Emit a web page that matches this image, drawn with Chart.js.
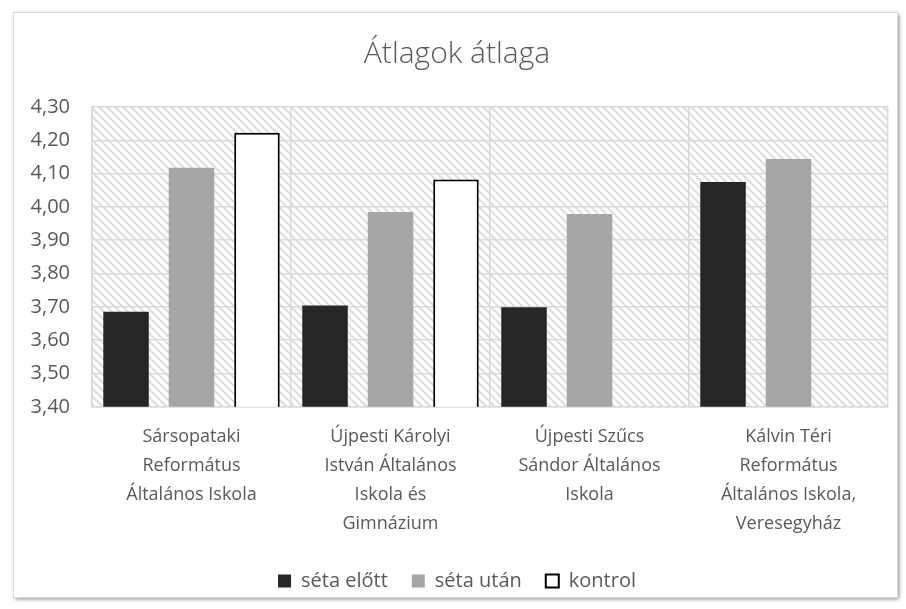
<!DOCTYPE html>
<html>
<head>
<meta charset="utf-8">
<script src="https://cdn.jsdelivr.net/npm/chart.js@4"></script>
<style>
  html, body { margin: 0; padding: 0; background: #fff; }
  #wrap { width: 906px; height: 609px; }
</style>
</head>
<body>
<div id="wrap"><canvas id="chart" width="906" height="609"></canvas></div>
<script>
const categories = [
  ['Sársopataki', 'Református', 'Általános Iskola'],
  ['Újpesti Károlyi', 'István Általános', 'Iskola és', 'Gimnázium'],
  ['Újpesti Szűcs', 'Sándor Általános', 'Iskola'],
  ['Kálvin Téri', 'Református', 'Általános Iskola,', 'Veresegyház']
]
const setaElott = [3.685, 3.704, 3.699, 4.075]
const setaUtan = [4.118, 3.985, 3.979, 4.144]
const kontrol = [4.223, 4.082, null, null]
const yMin = 3.4
const yMax = 4.3
const yStep = 0.1

const textColor = '#595959'
const gridColor = '#d9d9d9'

// diagonal hatch for the plot area
function hatchPattern (ctx) {
  const c = document.createElement('canvas')
  c.width = 8
  c.height = 8
  const p = c.getContext('2d')
  p.fillStyle = '#ffffff'
  p.fillRect(0, 0, 8, 8)
  p.strokeStyle = '#dedede'
  p.lineWidth = 2.2
  p.beginPath()
  p.moveTo(-2, -2); p.lineTo(10, 10)
  p.moveTo(-10, -2); p.lineTo(2, 10)
  p.moveTo(6, -2); p.lineTo(18, 10)
  p.stroke()
  return ctx.createPattern(c, 'repeat')
}

const background = {
  id: 'background',
  beforeDraw: function (chart) {
    const ctx = chart.ctx
    const a = chart.chartArea
    ctx.save()
    ctx.fillStyle = '#ffffff'
    ctx.fillRect(0, 0, chart.width, chart.height)
    // outer frame with soft shadow
    ctx.shadowColor = 'rgba(0, 0, 0, 0.45)'
    ctx.shadowBlur = 4
    ctx.shadowOffsetX = 2
    ctx.shadowOffsetY = 2
    ctx.fillRect(13, 12, 884, 585)
    ctx.shadowColor = 'transparent'
    ctx.strokeStyle = '#d9d9d9'
    ctx.lineWidth = 1
    ctx.strokeRect(13.5, 12.5, 884, 585)
    ctx.fillStyle = hatchPattern(ctx)
    ctx.fillRect(a.left, a.top, a.right - a.left, a.bottom - a.top)
    ctx.restore()
  }
}

const font = "'Open Sans', sans-serif"

new Chart(document.getElementById('chart').getContext('2d'), {
  type: 'bar',
  data: {
    labels: categories,
    datasets: [{
      label: 'séta előtt',
      data: setaElott,
      backgroundColor: '#262626',
      borderColor: '#262626',
      borderWidth: 0
    }, {
      label: 'séta után',
      data: setaUtan,
      backgroundColor: '#a6a6a6',
      borderColor: '#a6a6a6',
      borderWidth: 0
    }, {
      label: 'kontrol',
      data: kontrol,
      backgroundColor: '#ffffff',
      borderColor: '#000000',
      borderWidth: 2
    }]
  },
  options: {
    responsive: false,
    animation: false,
    layout: { padding: { top: 20, left: 26, right: 18, bottom: 8 } },
    datasets: {
      bar: { categoryPercentage: 0.987, barPercentage: 0.695 }
    },
    plugins: {
      title: {
        display: true,
        text: 'Átlagok átlaga',
        color: textColor,
        font: { family: font, size: 30, weight: '300' },
        padding: { top: 16, bottom: 35 }
      },
      legend: {
        position: 'bottom',
        labels: {
          color: textColor,
          font: { family: font, size: 20 },
          boxWidth: 13,
          boxHeight: 13,
          padding: 24
        }
      },
      tooltip: { enabled: false }
    },
    scales: {
      x: {
        grid: { color: gridColor, lineWidth: 1.5, drawTicks: false },
        border: { color: gridColor, width: 1.5 },
        ticks: {
          color: textColor,
          font: { family: font, size: 18, lineHeight: 1.6 },
          padding: 16,
          maxRotation: 0,
          autoSkip: false
        },
        afterFit: function (scale) { scale.height -= 7 }
      },
      y: {
        min: yMin,
        max: yMax,
        grid: { color: gridColor, lineWidth: 1.5, drawTicks: false },
        border: { color: gridColor, width: 1.5 },
        ticks: {
          stepSize: yStep,
          color: textColor,
          font: { family: font, size: 20 },
          padding: 22,
          callback: function (v) { return v.toFixed(2).replace('.', ',') }
        },
        afterFit: function (scale) { scale.width = 66 }
      }
    }
  },
  plugins: [background]
})
</script>
</body>
</html>
